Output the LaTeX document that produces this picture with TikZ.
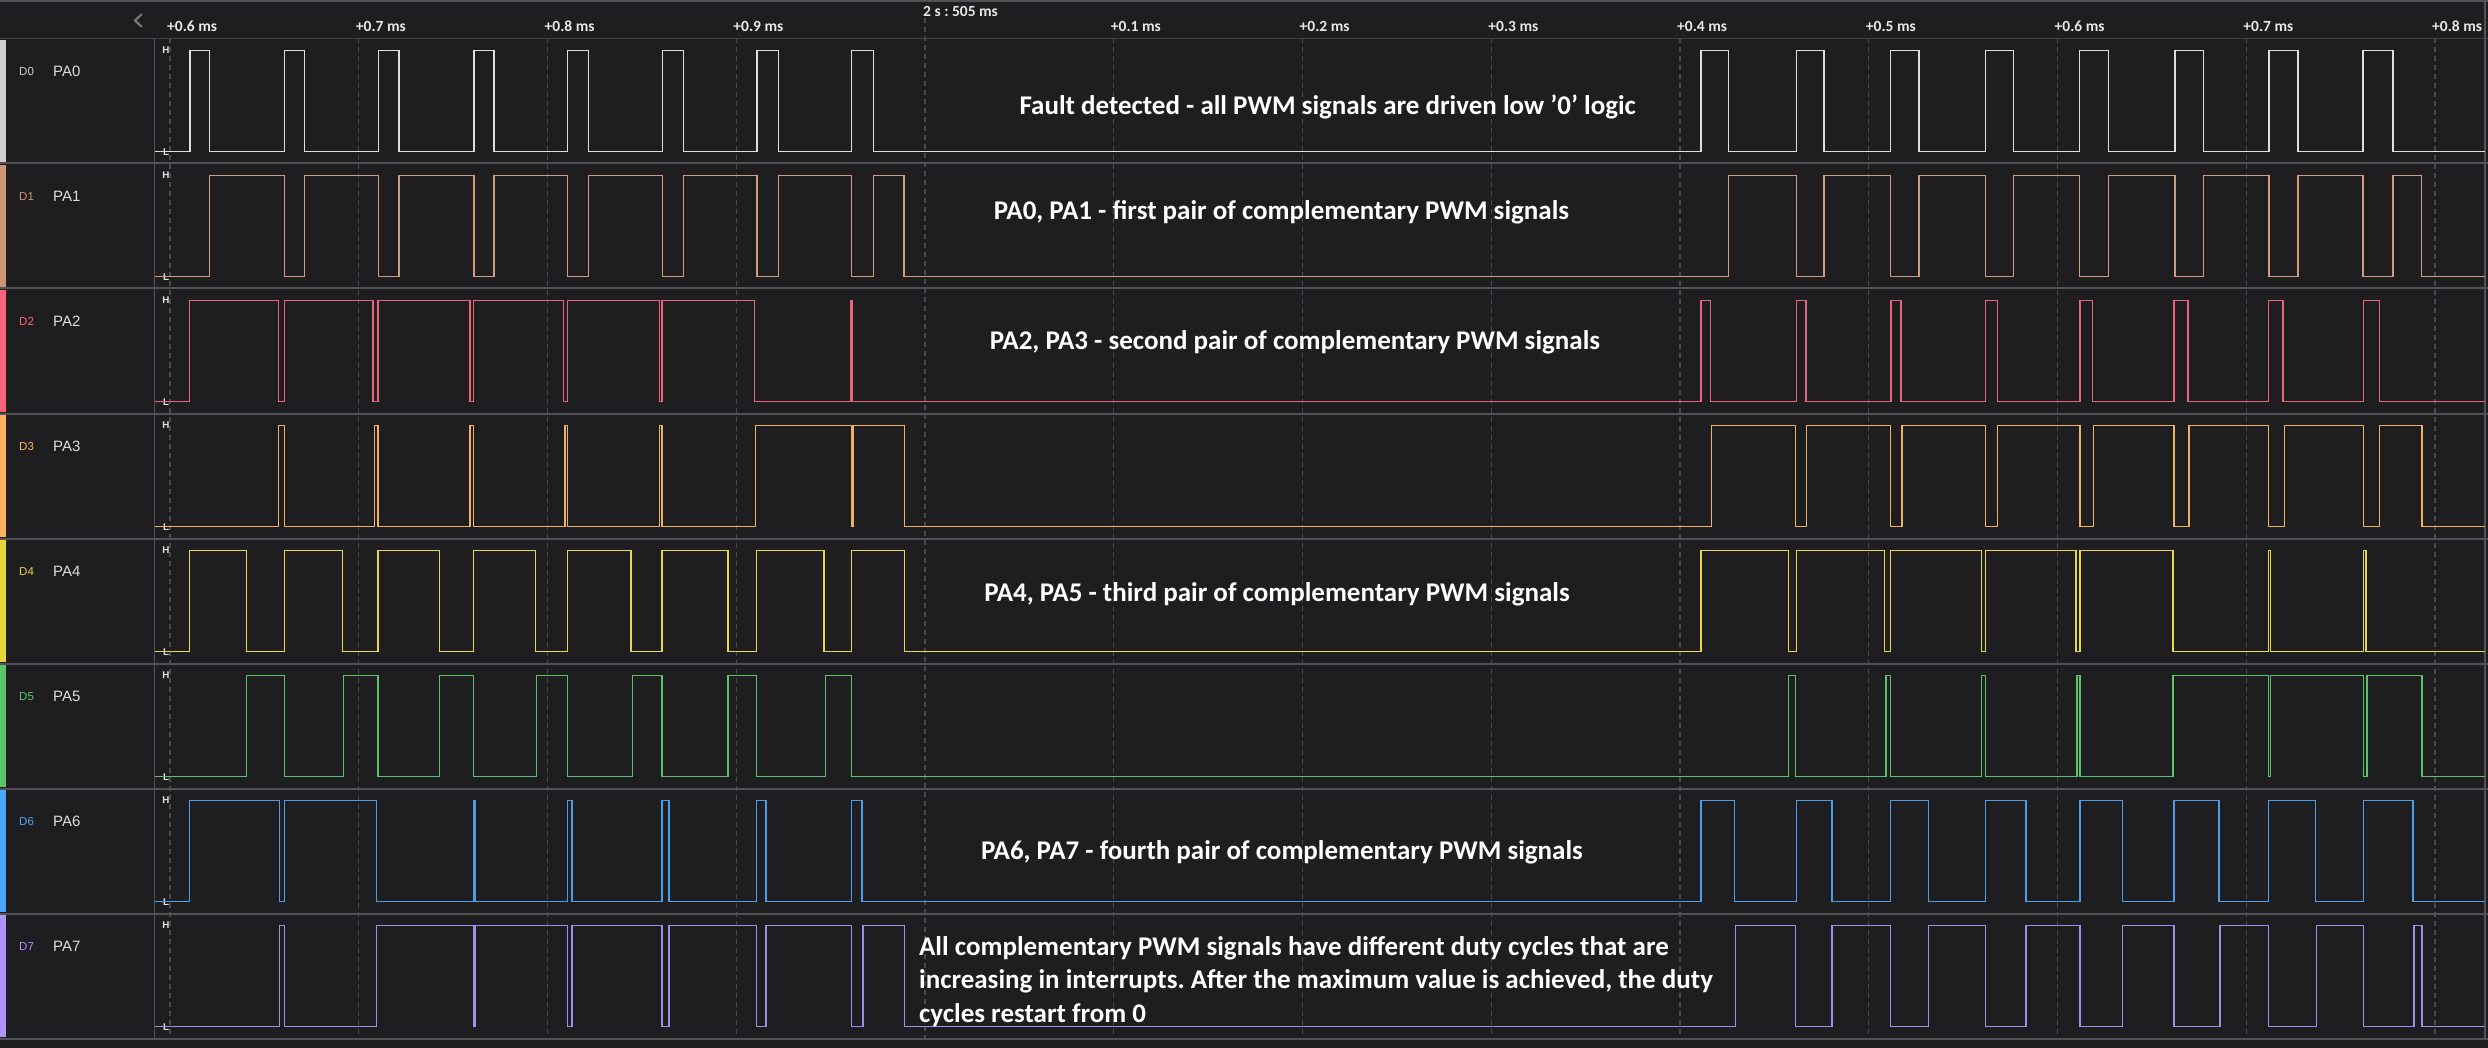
\documentclass[tikz,border=0pt]{standalone}
\usepackage{fontspec}
\setmainfont{Carlito}
\newfontfamily\uisans{Liberation Sans}
\frenchspacing
\definecolor{bg}{RGB}{30,30,32}
\definecolor{sepc}{RGB}{82,82,86}
\definecolor{gridc}{RGB}{74,74,78}
\definecolor{hdrc}{RGB}{66,66,70}
\definecolor{tickc}{RGB}{232,232,232}
\definecolor{hlc}{RGB}{225,225,225}
\definecolor{chanc}{RGB}{222,222,222}
\definecolor{chev}{RGB}{120,120,124}
% stripe / label colours
\definecolor{s0}{RGB}{208,208,208}
\definecolor{s1}{RGB}{205,148,118}
\definecolor{s2}{RGB}{250,100,122}
\definecolor{s3}{RGB}{252,176,96}
\definecolor{s4}{RGB}{232,214,56}
\definecolor{s5}{RGB}{88,198,104}
\definecolor{s6}{RGB}{78,166,252}
\definecolor{s7}{RGB}{176,146,252}
% waveform colours
\definecolor{w0}{RGB}{222,222,222}
\definecolor{w1}{RGB}{210,154,126}
\definecolor{w2}{RGB}{232,102,122}
\definecolor{w3}{RGB}{240,176,98}
\definecolor{w4}{RGB}{230,214,72}
\definecolor{w5}{RGB}{90,196,106}
\definecolor{w6}{RGB}{76,158,232}
\definecolor{w7}{RGB}{162,142,232}
\tikzset{
  sig/.style={line width=1.7pt, line join=miter},
  rowsep/.style={draw=sepc, line width=2pt},
  gridline/.style={draw=gridc, line width=1.2pt, dash pattern=on 5pt off 4pt},
  note/.style={text=white, font=\bfseries\fontsize{27}{33}\selectfont, inner sep=0pt},
  ticklab/.style={text=tickc, font=\bfseries\fontsize{15.5}{18}\selectfont, inner sep=0pt, anchor=base west},
  hl/.style={text=hlc, font=\uisans\bfseries\fontsize{9.8}{11}\selectfont, inner sep=0pt},
  chan/.style={text=chanc, font=\uisans\fontsize{15}{18}\selectfont, inner sep=0pt, anchor=west},
  dlab/.style={font=\uisans\fontsize{11.5}{14}\selectfont, inner sep=0pt, anchor=west},
}
\newcommand\sigwave[3]{%
  \pgfmathsetmacro\Ly{38.5+125*#1+113}%
  \pgfmathsetmacro\Hy{38.5+125*#1+12}%
  \draw[sig,draw=#2] (154.5,\Ly) \foreach \a/\b in {#3} { -- (\a,\Ly) -- (\a,\Hy) -- (\b,\Hy) -- (\b,\Ly) } -- (2485,\Ly);
}
\begin{document}
\begin{tikzpicture}[x=1pt,y=-1pt]
\useasboundingbox (0,0) rectangle (2488,1048);
\fill[bg] (0,0) rectangle (2488,1048);

% grid (time ticks)
\foreach \k in {0,1,2,3,5,6,7,8,9,10,11,12}
  \draw[gridline] (170+188.75*\k,38.5) -- (170+188.75*\k,1038.5);
\draw[gridline] (925,18) -- (925,1038.5);

% header and frame
\draw[draw=sepc, line width=2pt] (0,1.5) -- (2488,1.5);
\draw[draw=hdrc, line width=1.5pt] (0,38.5) -- (2488,38.5);
\draw[draw=sepc, line width=1.5pt] (154.5,38.5) -- (154.5,1038.5);
\draw[draw=sepc, line width=1.5pt] (2485,0) -- (2485,1038.5);
\foreach \i in {1,...,8}
  \draw[rowsep] (0,38.5+125*\i) -- (2488,38.5+125*\i);

% chevron
\coordinate (cva) at (141.5,14.5);
\coordinate (cvb) at (135,20.5);
\coordinate (cvc) at (141.5,26.5);
\draw[draw=chev, line width=2.2pt, line cap=round, line join=round] (cva) -- (cvb) -- (cvc);

% tick labels
\foreach \k/\t in {0/+0.6 ms,1/+0.7 ms,2/+0.8 ms,3/+0.9 ms,5/+0.1 ms,6/+0.2 ms,7/+0.3 ms,8/+0.4 ms,9/+0.5 ms,10/+0.6 ms,11/+0.7 ms,12/+0.8 ms}
  \node[ticklab] (tk\k) at (167+188.75*\k,31.5) {\t};
\node[ticklab] (tref) at (923,16.5) {2 s : 505 ms};

% channel labels, stripes, H/L marks
\foreach \i in {0,...,7} {
  \pgfmathsetmacro\T{38.5+125*\i}
  \fill[s\i] (0,\T+1.5) rectangle (5.5,\T+123.5);
  \node[dlab, text=s\i] (d\i) at (19,\T+33) {D\i};
  \node[chan] (p\i) at (53,\T+33) {PA\i};
  \node[hl] (h\i) at (166,\T+12) {H};
  \node[hl] (l\i) at (166,\T+113.5) {L};
}

% waveforms
\sigwave{0}{w0}{190/209.4, 284.4/304.5, 378.6/398.7, 473.7/493.8, 567.4/588.4, 662.5/683.5, 757/778.6, 851.5/873.4, 1701/1728.5, 1796.5/1823.7, 1890.5/1918.8, 1985.6/2013.4, 2079.6/2108.5, 2174.8/2203.6, 2268.7/2298.2, 2363.3/2393.3}
\sigwave{1}{w1}{209.4/284.4, 304.5/378.6, 398.7/473.7, 493.8/567.4, 588.4/662.5, 683.5/757, 778.6/851.5, 873.4/903.8, 1728.5/1796.5, 1823.7/1890.5, 1918.8/1985.6, 2013.4/2079.6, 2108.5/2174.8, 2203.6/2268.7, 2298.2/2363.3, 2393.3/2421.5}
\sigwave{2}{w2}{189.6/278.5, 284.4/373.3, 378.2/469.8, 473.6/563.6, 567.4/659.5, 662.3/754.4, 851.2/852.4, 1701.3/1710.4, 1796.4/1806, 1891/1901.2, 1985.6/1997.4, 2079.7/2092.5, 2174.3/2188.2, 2268.4/2283.3, 2363.5/2379.5}
\sigwave{3}{w3}{278.5/284.4, 374.4/378.2, 469.8/473.6, 564.7/567.4, 659.5/662.3, 755.4/851.4, 853/904.5, 1711.5/1795.4, 1806.6/1890.5, 1902.3/1985.6, 1997.4/2079.7, 2093.6/2174.3, 2188.7/2268.4, 2284.4/2363.5, 2379.5/2421.8}
\sigwave{4}{w4}{189.6/246.5, 284.4/342.4, 378.2/439.4, 473.6/535.4, 567.4/631.3, 662.3/728.3, 756.5/824.3, 851.4/904.5, 1701.3/1788.4, 1796.4/1884.6, 1890.5/1981.4, 1985.6/2076, 2079.7/2172.7, 2268.4/2270.5, 2363.5/2366.2}
\sigwave{5}{w5}{246.5/284.4, 343.5/378.2, 439.4/473.6, 536.5/567.4, 632.4/662.3, 728.3/756.5, 825.4/851.4, 1788.4/1795.4, 1885.7/1890.5, 1981.4/1985.6, 2077/2079.7, 2172.7/2268.4, 2270.5/2363.5, 2367.3/2421.8}
\sigwave{6}{w6}{189.6/279.5, 284.4/376.6, 474.1/475.3, 567.4/572.2, 662.3/669.2, 756.5/766.3, 851.4/862.2, 1701.3/1734.4, 1796.4/1831.7, 1890.5/1928.5, 1985.6/2025.7, 2079.7/2122.5, 2174.3/2218.7, 2268.4/2315.4, 2363.5/2412.7}
\sigwave{7}{w7}{279.5/284.4, 376.6/474.1, 475.3/567.4, 572.2/662.3, 669.2/756.5, 766.3/851.4, 863.3/904.5, 1735.5/1795.4, 1831.7/1890.5, 1928.5/1985.6, 2025.7/2079.7, 2122.5/2174.3, 2219.7/2268.4, 2316.5/2363.5, 2413.8/2421.8}

% annotations
\node[note, anchor=base] (nfault) at (1327.7,115) {Fault detected - all PWM signals are driven low \symbol{39}0\symbol{39} logic};
\node[note, anchor=base] (npair1) at (1281.5,220) {PA0, PA1 - first pair of complementary PWM signals};
\node[note, anchor=base] (npair2) at (1295,349.5) {PA2, PA3 - second pair of complementary PWM signals};
\node[note, anchor=base] (npair3) at (1277,601) {PA4, PA5 - third pair of complementary PWM signals};
\node[note, anchor=base] (npair4) at (1282,859) {PA6, PA7 - fourth pair of complementary PWM signals};
\node[note, anchor=base west] (nall1) at (918.9,955.6) {All complementary PWM signals have different duty cycles that are};
\node[note, anchor=base west] (nall2) at (918.9,988.8) {increasing in interrupts. After the maximum value is achieved, the duty};
\node[note, anchor=base west] (nall3) at (918.9,1022) {cycles restart from 0};
\end{tikzpicture}
\end{document}
